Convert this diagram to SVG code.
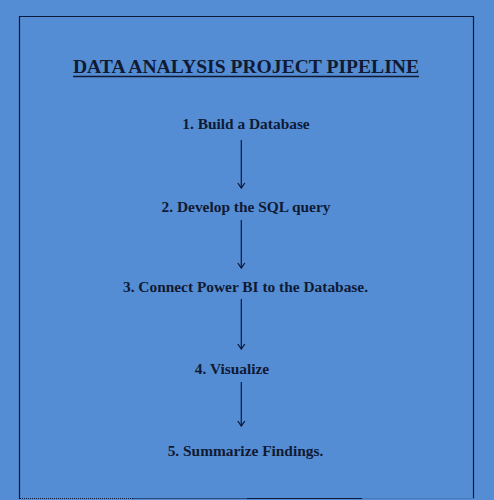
<svg xmlns="http://www.w3.org/2000/svg" width="494" height="500" viewBox="0 0 494 500">
<defs>
<style>
.lbl{font-family:"Liberation Serif","Times New Roman",serif;font-weight:bold;font-size:15.4px;fill:#111a33;text-anchor:middle}
.title{font-family:"Liberation Serif","Times New Roman",serif;font-weight:bold;font-size:19.6px;fill:#111a33;text-anchor:middle}
.conn{stroke:#0e1838;stroke-width:1.2;fill:none}
</style>
<marker id="arr" viewBox="-7 -5 8 10" markerWidth="8" markerHeight="10" refX="0" refY="0" orient="auto" markerUnits="userSpaceOnUse">
<path d="M -5 -3.5 L 0 0 L -5 3.5" fill="none" stroke="#0e1838" stroke-width="1.3"/>
</marker>
</defs>
<rect x="0" y="0" width="494" height="500" fill="#548DD4"/>
<g id="frame">
<path d="M19.5 499 V16.5 H473.5 V499" fill="none" stroke="#0e1838" stroke-width="1.2"/>
<line x1="20" y1="498.5" x2="133" y2="498.5" stroke="#0e1838" stroke-width="1" stroke-dasharray="1 1"/>
<line x1="133" y1="498.5" x2="247" y2="498.5" stroke="#2d4a78" stroke-width="1.2"/>
<line x1="247" y1="498.5" x2="362" y2="498.5" stroke="#0e1838" stroke-width="1.2"/>
<line x1="362" y1="498.5" x2="474" y2="498.5" stroke="#4a78b4" stroke-width="1.2"/>
</g>
<g id="title">
<text class="title" x="246" y="73.3">DATA ANALYSIS PROJECT PIPELINE</text>
<line x1="73" y1="76.5" x2="419" y2="76.5" stroke="#111a33" stroke-width="1.4"/>
</g>
<g id="n1"><text class="lbl" x="246" y="129.3">1. Build a Database</text></g>
<g id="n2"><text class="lbl" x="246" y="211.7">2. Develop the SQL query</text></g>
<g id="n3"><text class="lbl" x="245.5" y="291.7">3. Connect Power BI to the Database.</text></g>
<g id="n4"><text class="lbl" x="232" y="374.3">4. Visualize</text></g>
<g id="n5"><text class="lbl" x="245.5" y="456">5. Summarize Findings.</text></g>
<g id="connectors">
<line class="conn" x1="241.3" y1="140" x2="241.3" y2="188" marker-end="url(#arr)"/>
<line class="conn" x1="241.3" y1="220" x2="241.3" y2="268" marker-end="url(#arr)"/>
<line class="conn" x1="241.3" y1="299" x2="241.3" y2="349" marker-end="url(#arr)"/>
<line class="conn" x1="241.3" y1="382" x2="241.3" y2="426" marker-end="url(#arr)"/>
</g>
</svg>
